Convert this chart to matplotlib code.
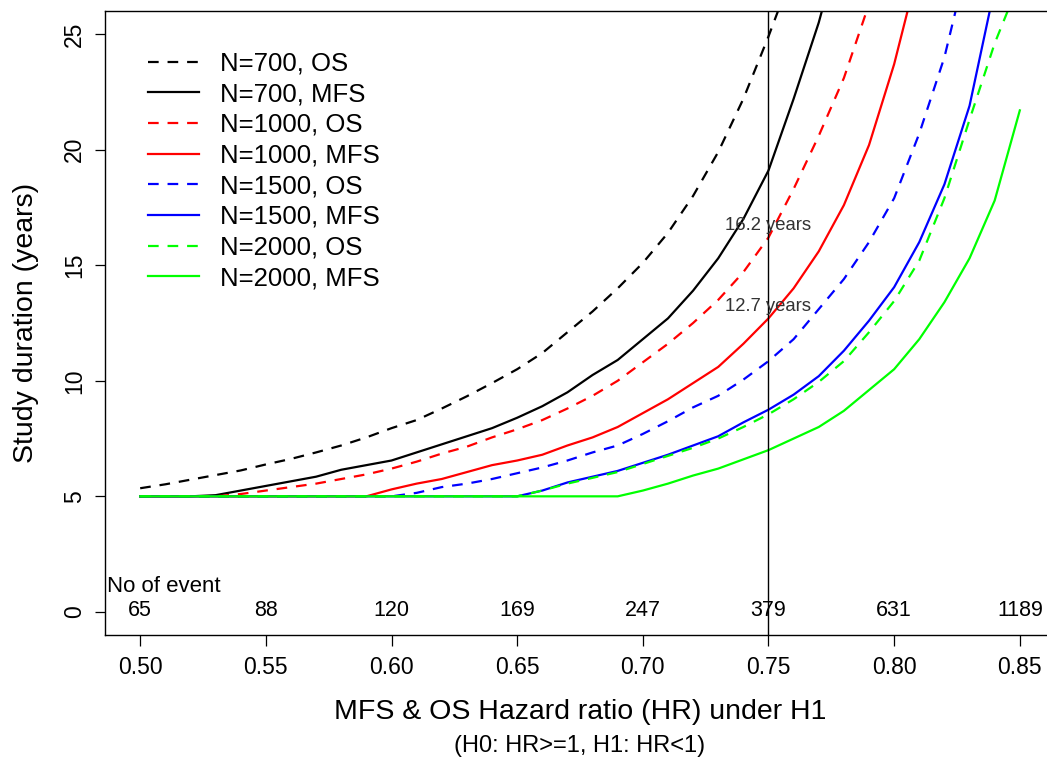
import matplotlib
matplotlib.use("Agg")
import matplotlib.pyplot as plt
import numpy as np

plt.rcParams['font.family'] = ['Liberation Sans', 'DejaVu Sans']

# hazard ratio grid (step 0.01) and the number of events at each tick
hr = np.round(np.arange(0.50, 0.851, 0.01), 2)
hr_ticks = [0.50, 0.55, 0.60, 0.65, 0.70, 0.75, 0.80, 0.85]
n_events = [65, 88, 120, 169, 247, 379, 631, 1189]

# study duration (years), starting at HR=0.50
os_700 = [5.35, 5.52, 5.72, 5.92, 6.12, 6.38, 6.62, 6.9, 7.2, 7.55, 7.95, 8.3, 8.8,
          9.33, 9.9, 10.5, 11.2, 12.1, 13.0, 14.0, 15.1, 16.4, 18.0, 19.9, 22.2,
          24.9, 27.8]
mfs_700 = [5, 5, 5, 5.05, 5.25, 5.45, 5.65, 5.85, 6.15, 6.35, 6.55, 6.9, 7.25, 7.6,
           7.95, 8.4, 8.9, 9.5, 10.25, 10.9, 11.8, 12.7, 13.9, 15.3, 17.0, 19.1,
           22.2, 25.5, 29.5]
os_1000 = [5, 5, 5, 5, 5.1, 5.25, 5.4, 5.55, 5.75, 5.95, 6.2, 6.5, 6.85, 7.15, 7.55,
           7.9, 8.3, 8.8, 9.35, 10.0, 10.8, 11.6, 12.5, 13.5, 14.7, 16.2, 18.3,
           20.6, 23.1, 26.3]
mfs_1000 = [5, 5, 5, 5, 5, 5, 5, 5, 5, 5, 5.3, 5.55, 5.75, 6.05, 6.35, 6.55, 6.8,
            7.2, 7.55, 8.0, 8.6, 9.2, 9.9, 10.6, 11.6, 12.7, 14.0, 15.6, 17.6,
            20.2, 23.7, 28.0]
os_1500 = [5, 5, 5, 5, 5, 5, 5, 5, 5, 5, 5, 5.15, 5.4, 5.55, 5.75, 6.0, 6.25, 6.55,
           6.9, 7.2, 7.7, 8.25, 8.85, 9.35, 10.05, 10.85, 11.8, 13.1, 14.4, 16.0,
           17.9, 20.7, 24.0, 28.5]
mfs_1500 = [5, 5, 5, 5, 5, 5, 5, 5, 5, 5, 5, 5, 5, 5, 5, 5, 5.25, 5.6, 5.85, 6.1,
            6.45, 6.8, 7.2, 7.6, 8.2, 8.75, 9.4, 10.2, 11.3, 12.6, 14.05, 16.0,
            18.5, 21.9, 27.0]
os_2000 = [5, 5, 5, 5, 5, 5, 5, 5, 5, 5, 5, 5, 5, 5, 5, 5, 5.25, 5.55, 5.8, 6.05,
           6.4, 6.75, 7.1, 7.5, 8.0, 8.55, 9.2, 9.95, 10.85, 12.1, 13.45, 15.2,
           17.9, 21.3, 24.6, 27.3]
mfs_2000 = [5, 5, 5, 5, 5, 5, 5, 5, 5, 5, 5, 5, 5, 5, 5, 5, 5, 5, 5, 5, 5.25, 5.55,
            5.9, 6.2, 6.6, 7.0, 7.5, 8.0, 8.7, 9.6, 10.5, 11.8, 13.4, 15.3, 17.8,
            21.7]

series = [
    ("N=700, OS", os_700, "black", "--"),
    ("N=700, MFS", mfs_700, "black", "-"),
    ("N=1000, OS", os_1000, "#ff0000", "--"),
    ("N=1000, MFS", mfs_1000, "#ff0000", "-"),
    ("N=1500, OS", os_1500, "#0000ff", "--"),
    ("N=1500, MFS", mfs_1500, "#0000ff", "-"),
    ("N=2000, OS", os_2000, "#00ff00", "--"),
    ("N=2000, MFS", mfs_2000, "#00ff00", "-"),
]

fig = plt.figure(figsize=(10.47, 7.6), dpi=100)
ax = fig.add_axes([105 / 1047, 1 - 635 / 760, 950 / 1047, 624 / 760])

for label, vals, color, ls in series:
    line, = ax.plot(hr[:len(vals)], vals, color=color, lw=1.6, label=label)
    if ls == "--":
        line.set_dashes((4.8, 4.0))

ax.axvline(0.75, color="black", lw=1.0)

ax.text(0.75, 16.7, "16.2 years", ha="center", va="center", fontsize=13.3,
        color="#333333")
ax.text(0.75, 13.2, "12.7 years", ha="center", va="center", fontsize=13.3,
        color="#333333")

ax.text(0.4868, 1.08, "No of event", ha="left", va="center", fontsize=16)
for h, n in zip(hr_ticks, n_events):
    ax.text(h, 0.05, str(n), ha="center", va="center", fontsize=15.5)

ax.set_xlim(0.486, 0.864)
ax.set_ylim(-1, 26)
ax.set_xticks(hr_ticks)
ax.set_xticklabels([f"{h:.2f}" for h in hr_ticks])
ax.set_yticks([0, 5, 10, 15, 20, 25])
ax.tick_params(axis="x", length=8, width=0.9, labelsize=16.5, pad=7)
ax.tick_params(axis="y", length=7.5, width=0.9, labelsize=16.5, pad=6,
               labelrotation=90)
for lab in ax.get_yticklabels():
    lab.set_va("center")
for sp in ax.spines.values():
    sp.set_linewidth(1.0)

fig.text(580 / 1047, 1 - 712 / 760, "MFS & OS Hazard ratio (HR) under H1",
         ha="center", va="center", fontsize=20.5)
fig.text(580 / 1047, 1 - 746 / 760, "(H0: HR>=1, H1: HR<1)",
         ha="center", va="center", fontsize=17)
fig.text(26 / 1047, 1 - 323 / 760, "Study duration (years)", rotation=90,
         ha="center", va="center", fontsize=20.5)

ax.legend(loc="upper left", bbox_to_anchor=(0.045, 0.935), frameon=False,
          fontsize=18.5, handlelength=2.0, handletextpad=0.8, labelspacing=0.26,
          borderpad=0, borderaxespad=0)

fig.savefig("out.png", dpi=100)
